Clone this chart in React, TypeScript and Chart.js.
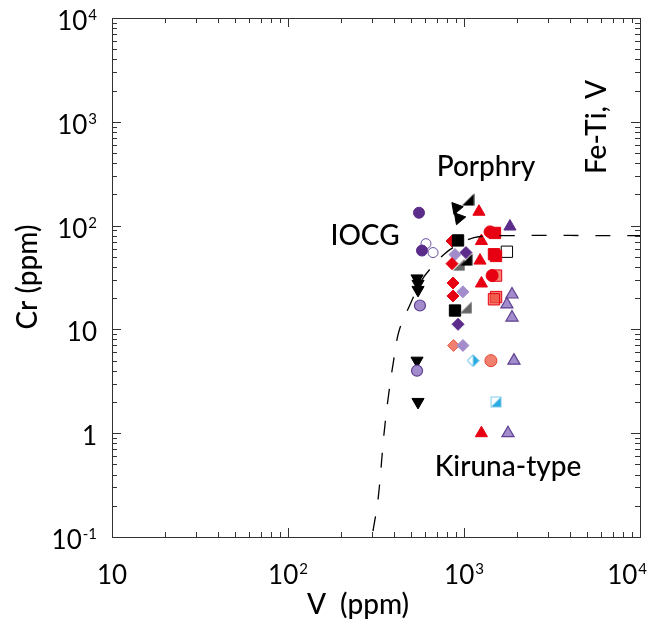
import React, { useEffect, useRef } from 'react';
import { Chart, registerables } from 'chart.js';
Chart.register(...registerables);

// ---- Axis ticks ----
const xTickValues = [10, 100, 1000, 10000];
const xTickBase = ['10', '10', '10', '10'];
const xTickExp = ['', '2', '3', '4'];
const yTickValues = [0.1, 1, 10, 100, 1000, 10000];
const yTickBase = ['10', '1', '10', '10', '10', '10'];
const yTickExp = ['-1', '', '', '2', '3', '4'];

// ---- Data [V ppm, Cr ppm] ----
const darkPurpleCircles = [[555, 133], [577, 57.5]];
const hollowPurpleCircles = [[608, 67], [667, 55]];
const lightPurpleCircles = [[562, 17], [541, 4]];
const blackDownTriangles = [[541, 31], [548, 27.5], [548, 24], [541, 5], [548, 2]];
const blackArrowTriangles = [[905, 148], [935, 118]];
const blackRightTriangles = [[1054, 178], [1030, 47]];
const grayRightTriangles = [[1026, 16.3], [935, 42]];
const redTriangles = [[1216, 136], [1256, 71], [1233, 46], [1256, 27.7], [1256, 1]];
const darkPurpleTriangles = [[1824, 98]];
const lightPurpleTriangles = [[1874, 21.7], [1753, 17.4], [1874, 13], [1922, 5], [1778, 1]];
const redCircles = [[1406, 87], [1445, 33]];
const salmonCircles = [[1422, 5]];
const lightRedSquares = [[1521, 33], [1521, 20.5], [1480, 19.5]];
const redSquares = [[1500, 85], [1480, 53], [1520, 51]];
const blackSquares = [[925, 72], [889, 15.2]];
const hollowBlackSquares = [[1753, 56]];
const blueHalfSquares = [[1521, 2]];
const redDiamonds = [[855, 71], [855, 43], [866, 28], [866, 21]];
const lightPurpleDiamonds = [[889, 52.6], [986, 23], [986, 7]];
const darkPurpleDiamonds = [[1026, 55], [925, 11.2]];
const salmonDiamonds = [[872, 7]];
const blueHalfDiamonds = [[1125, 5]];

// ---- Boundary curve ----
const curveV = [304, 325, 351, 370, 395, 427, 494, 577, 658, 780, 949, 1155, 1602, 10000];
const curveCr = [0.114, 0.232, 0.98, 2.12, 4.6, 9.6, 17.4, 30, 40, 54, 67, 77, 80, 80];

// ---- Field labels ----
const fieldLabels = ['IOCG', 'Porphry', 'Kiruna-type', 'Fe-Ti, V'];

const FONT = 'Lato, "Noto Sans", sans-serif';

const RED = '#e60012';
const DPURPLE = '#5b2c8a';
const LPURPLE = '#a28ccb';
const LPURPLE_EDGE = '#5e3f92';
const SALMON = '#f2806e';
const BLUE = '#29abe2';
const GRAY = '#666666';

function mk(s: number, draw: (c: CanvasRenderingContext2D, s: number) => void) {
  const c = document.createElement('canvas');
  c.width = s;
  c.height = s;
  const ctx = c.getContext('2d')!;
  draw(ctx, s);
  return c;
}

function rightTri(color: string) {
  return mk(13, (c, s) => {
    c.beginPath();
    c.moveTo(0.5, s - 0.5);
    c.lineTo(s - 0.5, s - 0.5);
    c.lineTo(s - 0.5, 0.5);
    c.closePath();
    c.fillStyle = color;
    c.fill();
  });
}

function halfDiamond() {
  return mk(13, (c, s) => {
    const h = s / 2;
    const path = () => {
      c.beginPath();
      c.moveTo(h, 0.8);
      c.lineTo(s - 0.8, h);
      c.lineTo(h, s - 0.8);
      c.lineTo(0.8, h);
      c.closePath();
    };
    path();
    c.fillStyle = '#fff';
    c.fill();
    c.beginPath();
    c.moveTo(h, 0.8);
    c.lineTo(s - 0.8, h);
    c.lineTo(h, s - 0.8);
    c.closePath();
    c.fillStyle = BLUE;
    c.fill();
    path();
    c.strokeStyle = BLUE;
    c.lineWidth = 1;
    c.stroke();
  });
}

function halfSquare() {
  return mk(13, (c, s) => {
    c.fillStyle = '#fff';
    c.fillRect(1, 1, s - 2, s - 2);
    c.beginPath();
    c.moveTo(s - 1, 1);
    c.lineTo(s - 1, s - 1);
    c.lineTo(1, s - 1);
    c.closePath();
    c.fillStyle = BLUE;
    c.fill();
    c.strokeStyle = '#7fcbee';
    c.lineWidth = 1;
    c.strokeRect(1.5, 1.5, s - 3, s - 3);
  });
}

const toPts = (a: number[][]) => a.map(([x, y]) => ({ x, y }));

function drawSup(ctx: CanvasRenderingContext2D, base: string, exp: string, x: number, y: number, align: 'center' | 'right', maxRight = 9999) {
  const bf = `26px ${FONT}`;
  const ef = `15px ${FONT}`;
  ctx.font = bf;
  const bw = ctx.measureText(base).width;
  ctx.font = ef;
  const ew = exp ? ctx.measureText(exp).width + 1 : 0;
  const tw = bw + ew;
  let left = align === 'center' ? x - tw / 2 : x - tw;
  if (left + tw > maxRight) left = maxRight - tw;
  ctx.textAlign = 'left';
  ctx.textBaseline = 'alphabetic';
  ctx.font = bf;
  ctx.fillText(base, left, y);
  if (exp) {
    ctx.font = ef;
    ctx.fillText(exp, left + bw + 1, y - 10);
  }
}

export default function App() {
  const ref = useRef<HTMLCanvasElement | null>(null);

  useEffect(() => {
    document.body.style.margin = '0';
    const canvas = ref.current!;

    const decor = {
      id: 'decor',
      afterDraw(chart: any) {
        const { ctx, chartArea: a } = chart;
        const xs = chart.scales.x;
        const ys = chart.scales.y;
        ctx.save();
        ctx.strokeStyle = '#333';
        ctx.lineWidth = 1;
        ctx.strokeRect(Math.round(a.left) + 0.5, Math.round(a.top) + 0.5, Math.round(a.right - a.left), Math.round(a.bottom - a.top));
        // inward ticks
        ctx.beginPath();
        for (let d = 10; d < 10000; d *= 10) {
          for (let m = 1; m <= 10; m++) {
            const v = d * m;
            const px = Math.round(xs.getPixelForValue(v)) + 0.5;
            const len = m === 1 || m === 10 ? 9 : 5;
            ctx.moveTo(px, a.bottom);
            ctx.lineTo(px, a.bottom - len);
            ctx.moveTo(px, a.top);
            ctx.lineTo(px, a.top + len);
          }
        }
        for (let d = 0.1; d < 9999; d *= 10) {
          for (let m = 1; m <= 10; m++) {
            const v = d * m;
            const py = Math.round(ys.getPixelForValue(v)) + 0.5;
            const len = m === 1 || m === 10 ? 9 : 5;
            ctx.moveTo(a.left, py);
            ctx.lineTo(a.left + len, py);
            ctx.moveTo(a.right, py);
            ctx.lineTo(a.right - len, py);
          }
        }
        ctx.stroke();

        // tick labels
        ctx.fillStyle = '#000';
        xTickValues.forEach((v, i) => {
          drawSup(ctx, xTickBase[i], xTickExp[i], xs.getPixelForValue(v), a.bottom + 47, 'center', 647);
        });
        yTickValues.forEach((v, i) => {
          drawSup(ctx, yTickBase[i], yTickExp[i], a.left - 15, ys.getPixelForValue(v) + 12, 'right');
        });

        // axis titles
        ctx.font = `500 28px ${FONT}`;
        ctx.textAlign = 'center';
        ctx.textBaseline = 'middle';
        ctx.fillText('V  (ppm)', 358, 605);
        ctx.save();
        ctx.translate(28, 277);
        ctx.rotate(-Math.PI / 2);
        ctx.fillText('Cr (ppm)', 0, 0);
        ctx.restore();

        // field labels
        ctx.font = `500 28px ${FONT}`;
        ctx.fillText(fieldLabels[0], 365, 236);
        ctx.fillText(fieldLabels[1], 486, 167);
        ctx.fillText(fieldLabels[2], 508, 467);
        ctx.save();
        ctx.translate(597, 127);
        ctx.rotate(-Math.PI / 2);
        ctx.fillText(fieldLabels[3], 0, 0);
        ctx.restore();
        ctx.restore();
      },
    };

    const sc = (data: number[][], extra: any) => ({
      type: 'scatter',
      data: toPts(data),
      pointRadius: 6,
      borderWidth: 1,
      ...extra,
    });

    const chart = new Chart(canvas, {
      type: 'scatter',
      data: {
        datasets: [
          {
            type: 'line',
            data: curveV.map((v, i) => ({ x: v, y: curveCr[i] })),
            borderColor: '#000',
            borderWidth: 1.3,
            borderDash: [15, 17],
            pointRadius: 0,
            tension: 0.35,
            fill: false,
          } as any,
          sc(darkPurpleCircles, { pointStyle: 'circle', pointRadius: 5.5, backgroundColor: DPURPLE, borderColor: DPURPLE }),
          sc(hollowPurpleCircles, { pointStyle: 'circle', pointRadius: 5, backgroundColor: '#fff', borderColor: '#6a4c9c' }),
          sc(lightPurpleCircles, { pointStyle: 'circle', pointRadius: 5.5, backgroundColor: LPURPLE, borderColor: LPURPLE_EDGE, borderWidth: 1.2 }),
          sc(blackDownTriangles, { pointStyle: 'triangle', rotation: 180, pointRadius: 7, backgroundColor: '#000', borderColor: '#000' }),
          sc(blackArrowTriangles, { pointStyle: 'triangle', rotation: -40, pointRadius: 7, backgroundColor: '#000', borderColor: '#000' }),
          sc(blackRightTriangles, { pointStyle: rightTri('#000') }),
          sc(grayRightTriangles, { pointStyle: rightTri(GRAY) }),
          sc(redTriangles, { pointStyle: 'triangle', pointRadius: 7, backgroundColor: RED, borderColor: RED }),
          sc(darkPurpleTriangles, { pointStyle: 'triangle', pointRadius: 7, backgroundColor: DPURPLE, borderColor: DPURPLE }),
          sc(lightPurpleTriangles, { pointStyle: 'triangle', pointRadius: 7, backgroundColor: LPURPLE, borderColor: LPURPLE_EDGE, borderWidth: 1.2 }),
          sc(redCircles, { pointStyle: 'circle', pointRadius: 6, backgroundColor: RED, borderColor: RED }),
          sc(salmonCircles, { pointStyle: 'circle', pointRadius: 6, backgroundColor: SALMON, borderColor: '#e04030' }),
          sc(lightRedSquares, { pointStyle: 'rect', pointRadius: 8, backgroundColor: 'rgba(238,80,60,0.7)', borderColor: RED }),
          sc(redSquares, { pointStyle: 'rect', pointRadius: 8, backgroundColor: RED, borderColor: RED }),
          sc(blackSquares, { pointStyle: 'rect', pointRadius: 8, backgroundColor: '#000', borderColor: '#000' }),
          sc(hollowBlackSquares, { pointStyle: 'rect', pointRadius: 8, backgroundColor: '#fff', borderColor: '#000' }),
          sc(blueHalfSquares, { pointStyle: halfSquare() }),
          sc(redDiamonds, { pointStyle: 'rectRot', pointRadius: 6, backgroundColor: RED, borderColor: RED }),
          sc(lightPurpleDiamonds, { pointStyle: 'rectRot', pointRadius: 6, backgroundColor: LPURPLE, borderColor: LPURPLE }),
          sc(darkPurpleDiamonds, { pointStyle: 'rectRot', pointRadius: 6, backgroundColor: DPURPLE, borderColor: DPURPLE }),
          sc(salmonDiamonds, { pointStyle: 'rectRot', pointRadius: 6, backgroundColor: SALMON, borderColor: '#e86050' }),
          sc(blueHalfDiamonds, { pointStyle: halfDiamond() }),
        ] as any,
      },
      options: {
        responsive: false,
        animation: false,
        layout: { padding: { left: 112, top: 18, right: 17, bottom: 93 } },
        plugins: { legend: { display: false }, tooltip: { enabled: false } },
        scales: {
          x: { type: 'logarithmic', min: 10, max: 10000, display: false },
          y: { type: 'logarithmic', min: 0.1, max: 10000, display: false },
        },
      } as any,
      plugins: [decor],
    });
    return () => chart.destroy();
  }, []);

  return <canvas ref={ref} width={657} height={630} style={{ display: 'block' }} />;
}
